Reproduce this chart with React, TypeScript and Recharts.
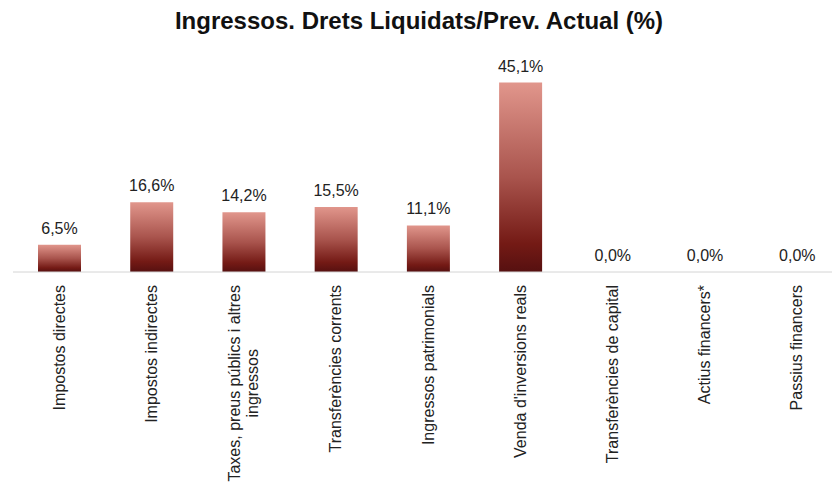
import React from "react";
import { BarChart, Bar, XAxis, YAxis, LabelList } from "recharts";

const categories: string[] = [
  "Impostos directes",
  "Impostos indirectes",
  "Taxes, preus públics i altres ingressos",
  "Transferències corrents",
  "Ingressos patrimonials",
  "Venda d'inversions reals",
  "Transferències de capital",
  "Actius financers*",
  "Passius financers",
];

const values: number[] = [6.5, 16.6, 14.2, 15.5, 11.1, 45.1, 0.0, 0.0, 0.0];

const yDomain: [number, number] = [0, 50];

const title = "Ingressos. Drets Liquidats/Prev. Actual (%)";

const data = categories.map((name, i) => ({ name, value: values[i] }));

const FONT = '"Liberation Sans", Arial, Helvetica, sans-serif';
const TICK_FONT_SIZE = 16;
const WRAP_WIDTH = 205;

let ctx: CanvasRenderingContext2D | null = null;
function measure(text: string): number {
  if (!ctx) {
    const c = document.createElement("canvas");
    ctx = c.getContext("2d");
  }
  if (!ctx) return text.length * TICK_FONT_SIZE * 0.5;
  ctx.font = `${TICK_FONT_SIZE}px ${FONT}`;
  return ctx.measureText(text).width;
}

function wrap(text: string): string[] {
  const words = text.split(" ");
  const lines: string[] = [];
  let cur = "";
  for (const w of words) {
    const cand = cur ? cur + " " + w : w;
    if (cur && measure(cand) > WRAP_WIDTH) {
      lines.push(cur);
      cur = w;
    } else {
      cur = cand;
    }
  }
  if (cur) lines.push(cur);
  return lines;
}

const CategoryTick = (props: any) => {
  const { x, y, payload } = props;
  const lines = wrap(String(payload.value));
  const maxW = Math.max(...lines.map(measure));
  const lh = TICK_FONT_SIZE * 1.15;
  const n = lines.length;
  return (
    <g transform={`translate(${x},${y}) rotate(-90)`}>
      {lines.map((ln, i) => (
        <text
          key={i}
          x={n > 1 ? -maxW / 2 : 0}
          y={(i - (n - 1) / 2) * lh}
          dy="0.35em"
          textAnchor={n > 1 ? "middle" : "end"}
          fontFamily={FONT}
          fontSize={TICK_FONT_SIZE}
          fill="#222"
        >
          {ln}
        </text>
      ))}
    </g>
  );
};

const fmt = (v: any) => Number(v).toFixed(1).replace(".", ",") + "%";

const ValueLabel = (props: any) => {
  const { x, y, width, height, value } = props;
  if (x == null || y == null) return null;
  const top = Math.min(Number(y), Number(y) + Number(height || 0));
  return (
    <text
      x={Number(x) + Number(width) / 2}
      y={top - 11}
      textAnchor="middle"
      fontFamily={FONT}
      fontSize={16}
      fill="#222"
    >
      {fmt(value)}
    </text>
  );
};

export default function App() {
  return (
    <div
      style={{
        position: "absolute",
        left: 0,
        top: 0,
        width: 832,
        height: 485,
        overflow: "hidden",
        background: "#fff",
      }}
    >
      <svg
        width={832}
        height={45}
        style={{ position: "absolute", left: 0, top: 0 }}
      >
        <text
          x={419}
          y={29}
          textAnchor="middle"
          fontFamily={FONT}
          fontWeight="bold"
          fontSize={24}
          fill="#111"
        >
          {title}
        </text>
      </svg>
      <div style={{ position: "absolute", left: 0, top: 0 }}>
        <BarChart
          width={843}
          height={485}
          data={data}
          margin={{ top: 62, right: 0, bottom: 0, left: 13 }}
        >
          <defs>
            <linearGradient id="barGrad" x1="0" y1="0" x2="0" y2="1">
              <stop offset="0%" stopColor="#E1968C" />
              <stop offset="50%" stopColor="#A9544D" />
              <stop offset="85%" stopColor="#741A15" />
              <stop offset="100%" stopColor="#561010" />
            </linearGradient>
          </defs>
          <YAxis hide domain={yDomain} />
          <XAxis
            dataKey="name"
            interval={0}
            tickLine={false}
            tickSize={0}
            tickMargin={13}
            height={213}
            axisLine={{ stroke: "#D4D4D4", strokeWidth: 1 }}
            tick={<CategoryTick />}
          />
          <Bar
            dataKey="value"
            fill="url(#barGrad)"
            barSize={43}
            minPointSize={0.01}
            isAnimationActive={false}
          >
            <LabelList dataKey="value" content={<ValueLabel />} />
          </Bar>
        </BarChart>
      </div>
    </div>
  );
}
